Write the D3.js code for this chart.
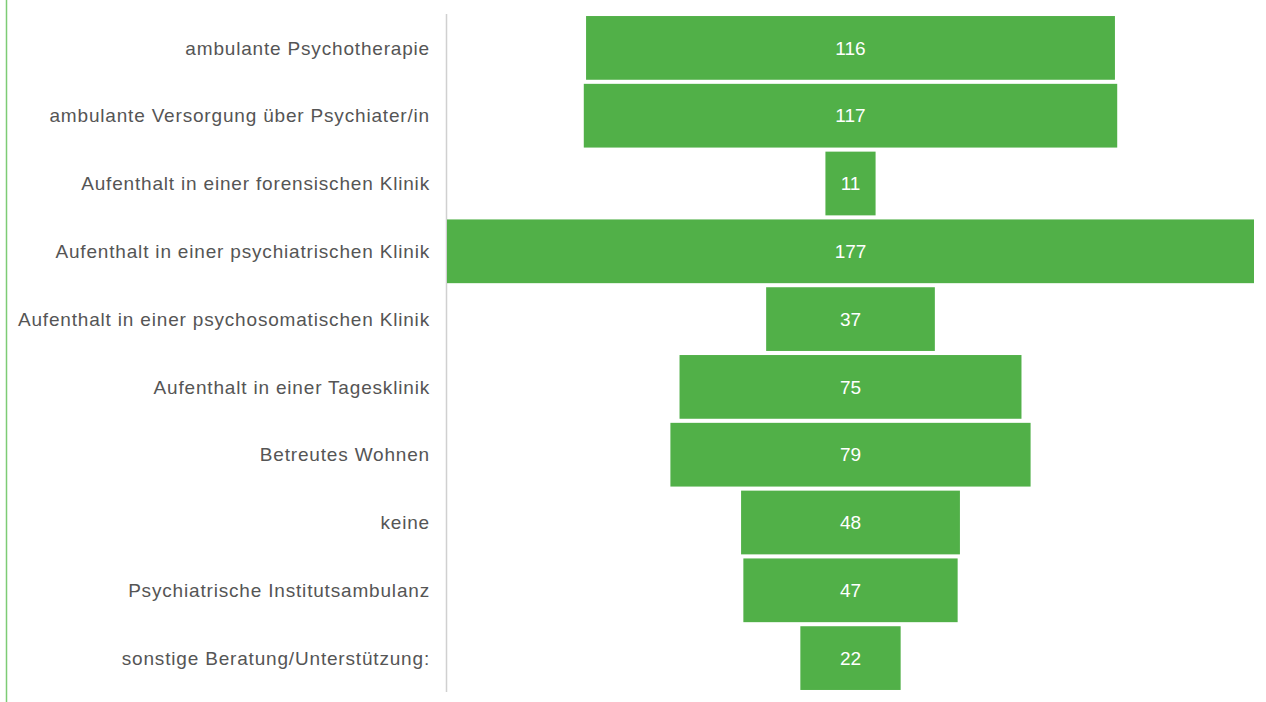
<!DOCTYPE html>
<html><head><meta charset="utf-8">
<script src="https://cdn.jsdelivr.net/npm/d3@7"></script>
<style>
html,body{margin:0;padding:0;background:#fff;}
svg{display:block;}
</style></head>
<body>
<script>
const categories = [
  "ambulante Psychotherapie",
  "ambulante Versorgung über Psychiater/in",
  "Aufenthalt in einer forensischen Klinik",
  "Aufenthalt in einer psychiatrischen Klinik",
  "Aufenthalt in einer psychosomatischen Klinik",
  "Aufenthalt in einer Tagesklinik",
  "Betreutes Wohnen",
  "keine",
  "Psychiatrische Institutsambulanz",
  "sonstige Beratung/Unterstützung:"
];
const values = [116, 117, 11, 177, 37, 75, 79, 48, 47, 22];

const W = 1266, H = 702;
const svg = d3.select("body").append("svg").attr("width", W).attr("height", H);

const plotLeft = 447, plotRight = 1254;
const center = (plotLeft + plotRight) / 2;
const y = d3.scaleBand().domain(categories).range([14, 692]).paddingInner(0.06).paddingOuter(0.03);
const w = d3.scaleLinear().domain([0, d3.max(values)]).range([0, plotRight - plotLeft]);

// left green border line
svg.append("line").attr("x1", 6.5).attr("x2", 6.5).attr("y1", 0).attr("y2", H)
  .attr("stroke", "#7dcc75").attr("stroke-width", 1.5);

// axis line
svg.append("line").attr("x1", 446.5).attr("x2", 446.5).attr("y1", 14).attr("y2", 692)
  .attr("stroke", "#d0d0d0").attr("stroke-width", 1.5);

const data = categories.map((c, i) => ({c, v: values[i]}));

svg.selectAll("rect.bar").data(data).enter().append("rect")
  .attr("class", "bar")
  .attr("x", d => center - w(d.v) / 2)
  .attr("width", d => w(d.v))
  .attr("y", d => y(d.c))
  .attr("height", y.bandwidth())
  .attr("fill", "#51b048");

svg.selectAll("text.val").data(data).enter().append("text")
  .attr("class", "val")
  .attr("x", center)
  .attr("y", d => y(d.c) + y.bandwidth() / 2)
  .attr("dy", "0.35em")
  .attr("text-anchor", "middle")
  .attr("fill", "#ffffff")
  .style("font-family", "'Liberation Sans', Arial, sans-serif")
  .style("font-size", "19px")
  .text(d => d.v);

svg.selectAll("text.lab").data(data).enter().append("text")
  .attr("class", "lab")
  .attr("x", 430)
  .attr("y", d => y(d.c) + y.bandwidth() / 2)
  .attr("dy", "0.35em")
  .attr("text-anchor", "end")
  .attr("fill", "#555555")
  .style("font-family", "'Liberation Sans', Arial, sans-serif")
  .style("font-size", "19px")
  .style("letter-spacing", "0.82px")
  .text(d => d.c);
</script>
</body></html>
